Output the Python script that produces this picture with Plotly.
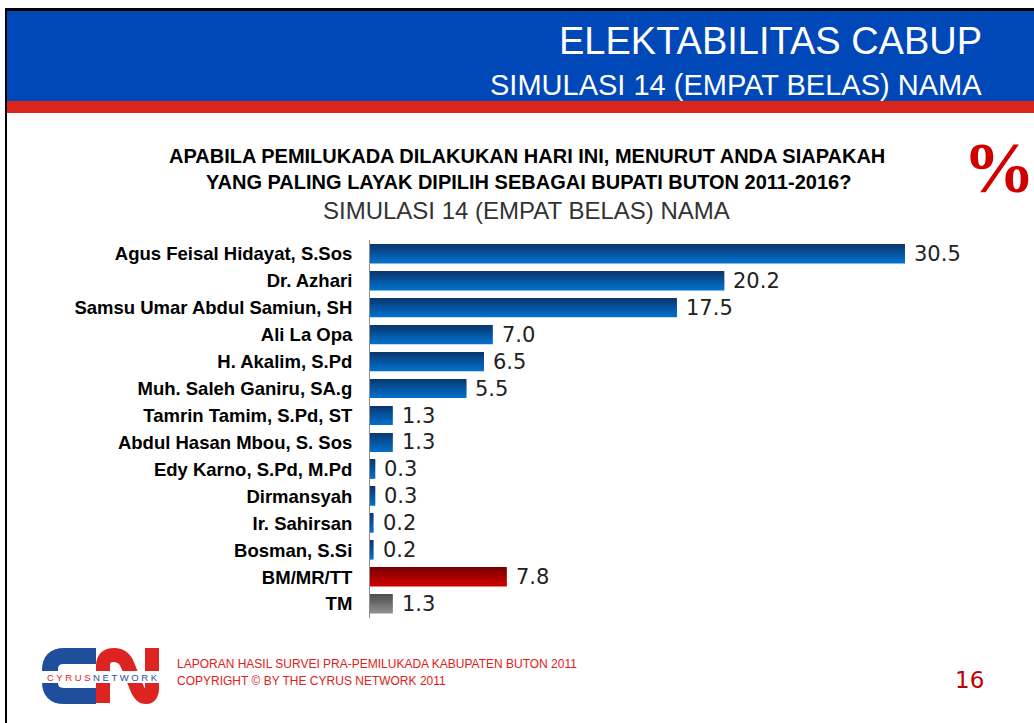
import plotly.graph_objects as go

# ---- data ----
names = ["Agus Feisal Hidayat, S.Sos", "Dr. Azhari", "Samsu Umar Abdul Samiun, SH",
         "Ali La Opa", "H. Akalim, S.Pd", "Muh. Saleh Ganiru, SA.g",
         "Tamrin Tamim, S.Pd, ST", "Abdul Hasan Mbou, S. Sos", "Edy Karno, S.Pd, M.Pd",
         "Dirmansyah", "Ir. Sahirsan", "Bosman, S.Si", "BM/MR/TT", "TM"]
values = [30.5, 20.2, 17.5, 7.0, 6.5, 5.5, 1.3, 1.3, 0.3, 0.3, 0.2, 0.2, 7.8, 1.3]
groups = ["cand"] * 12 + ["undecided", "none"]
value_text = ["30.5", "20.2", "17.5", "7.0", "6.5", "5.5", "1.3", "1.3",
              "0.3", "0.3", "0.2", "0.2", "7.8", "1.3"]

# ---- layout geometry (pixels) ----
W, H = 1034, 723
PL, PR, PT, PB = 370, 1000, 240, 618   # plot area edges
PX_PER_UNIT = 17.54

def xp(px):
    return (px - PL) / (PR - PL)

def yp(py):
    return (PB - py) / (PB - PT)

def path(points_cmd):
    out = []
    for tok in points_cmd:
        if isinstance(tok, str):
            out.append(tok)
        else:
            out.append(f"{xp(tok[0]):.5f},{yp(tok[1]):.5f}")
    return " ".join(out)

# gradient stops (top -> bottom)
grad = {
    "cand": ((10, 56, 112), (0, 110, 200)),
    "undecided": ((125, 0, 0), (205, 0, 0)),
    "none": ((80, 80, 80), (140, 140, 140)),
}

def mix(a, b, t):
    return "rgb(%d,%d,%d)" % tuple(round(a[k] + (b[k] - a[k]) * t) for k in range(3))

fig = go.Figure()
N = 10
BW = 0.70
for i in range(N):
    t = i / (N - 1)
    cols = [mix(grad[g][0], grad[g][1], t) for g in groups]
    fig.add_trace(go.Bar(
        y=names, x=values, orientation="h",
        width=BW / N + 0.002, offset=-BW / 2 + i * BW / N,
        marker=dict(color=cols, line=dict(width=0)),
        hoverinfo="skip", showlegend=False,
    ))

annotations = []
# value labels, anchored to the data through the axes
for n, v, t in zip(names, values, value_text):
    annotations.append(dict(text=t, x=v, y=n, xref="x", yref="y", xanchor="left",
                            yanchor="middle", xshift=7, showarrow=False,
                            font=dict(family="DejaVu Sans", size=21, color="#222222")))

shapes = []
# frame lines
shapes.append(dict(type="rect", xref="paper", yref="paper",
                   x0=xp(5), x1=xp(1034), y0=yp(11), y1=yp(8),
                   fillcolor="#000000", line=dict(width=0), layer="above"))
shapes.append(dict(type="rect", xref="paper", yref="paper",
                   x0=xp(5), x1=xp(7), y0=yp(723), y1=yp(8),
                   fillcolor="#000000", line=dict(width=0), layer="above"))
# blue band and red stripe
shapes.append(dict(type="rect", xref="paper", yref="paper",
                   x0=xp(7), x1=xp(1034), y0=yp(101), y1=yp(11),
                   fillcolor="#0047B7", line=dict(width=0)))
shapes.append(dict(type="rect", xref="paper", yref="paper",
                   x0=xp(7), x1=xp(1034), y0=yp(113), y1=yp(101),
                   fillcolor="#DA251D", line=dict(width=0)))
# logo: blue C
shapes.append(dict(type="path", xref="paper", yref="paper",
                   path=path(["M", (96, 656), "L", (64, 656), "Q", (50, 656), (50, 670),
                              "L", (50, 682), "Q", (50, 696), (64, 696), "L", (96, 696)]),
                   line=dict(color="#1F4E9C", width=16)))
# logo: red N
shapes.append(dict(type="path", xref="paper", yref="paper",
                   path=path(["M", (103, 703), "L", (103, 666), "Q", (103, 655), (114, 655),
                              "Q", (124, 655), (128, 666), "L", (136, 686), "Q", (140, 697), (146, 697),
                              "Q", (152, 697), (152, 688), "L", (152, 648)]),
                   line=dict(color="#DD2420", width=14)))
# logo white text band
shapes.append(dict(type="rect", xref="paper", yref="paper",
                   x0=xp(41), x1=xp(163), y0=yp(683), y1=yp(671),
                   fillcolor="#FFFFFF", line=dict(width=0)))

def ann(text, x, y, size, color, family, xanchor="center", weight="normal"):
    annotations.append(dict(text=text, x=xp(x), y=yp(y), xref="paper", yref="paper",
                            xanchor=xanchor, yanchor="middle", showarrow=False,
                            font=dict(size=size, color=color, family=family, weight=weight)))

ann("ELEKTABILITAS CABUP", 984, 41, 38, "#FFFFFF", "Liberation Sans", xanchor="right")
ann("SIMULASI 14 (EMPAT BELAS) NAMA", 984, 85, 29, "#FFFFFF", "Liberation Sans", xanchor="right")
ann("APABILA PEMILUKADA DILAKUKAN HARI INI, MENURUT ANDA SIAPAKAH", 527, 156, 20, "#000000",
    "Liberation Sans", weight="bold")
ann("YANG PALING LAYAK DIPILIH SEBAGAI BUPATI BUTON 2011-2016?", 528, 182, 20, "#000000",
    "Liberation Sans", weight="bold")
ann("SIMULASI 14 (EMPAT BELAS) NAMA", 526, 210, 24, "#333333", "Liberation Sans")
ann("%", 999, 168, 72, "#D00000", "Liberation Serif", weight="bold")
ann("<span style='color:#DD2420'>C Y R U S </span><span style='color:#1F4E9C'>N E T W O R K</span>",
    102, 677, 9.5, "#1F4E9C", "Liberation Sans")
ann("LAPORAN HASIL SURVEI PRA-PEMILUKADA KABUPATEN BUTON 2011", 175, 664, 12, "#E02020",
    "Liberation Sans", xanchor="left")
ann("COPYRIGHT © BY THE CYRUS NETWORK 2011", 175, 681, 12, "#E02020",
    "Liberation Sans", xanchor="left")
ann("16", 969, 680, 23, "#C00000", "DejaVu Sans")

fig.update_layout(
    width=W, height=H,
    margin=dict(l=PL, r=W - PR, t=PT, b=H - PB, pad=0),
    paper_bgcolor="#FFFFFF", plot_bgcolor="#FFFFFF",
    barmode="overlay",
    bargap=0.3,
    shapes=shapes, annotations=annotations,
    xaxis=dict(range=[0, (PR - PL) / PX_PER_UNIT], visible=False, fixedrange=True),
    yaxis=dict(autorange="reversed", type="category", showline=True, linecolor="#8C8C8C",
               linewidth=1, showgrid=False, zeroline=False, ticks="",
               ticklabelstandoff=13, fixedrange=True,
               tickfont=dict(family="Liberation Sans", size=18.5,
                             color="#000000", weight="bold")),
    font=dict(family="Liberation Sans"),
)

fig.write_html("out.html", config={"displayModeBar": False},
               post_script="document.body.style.margin='0';document.body.style.overflow='hidden';")
